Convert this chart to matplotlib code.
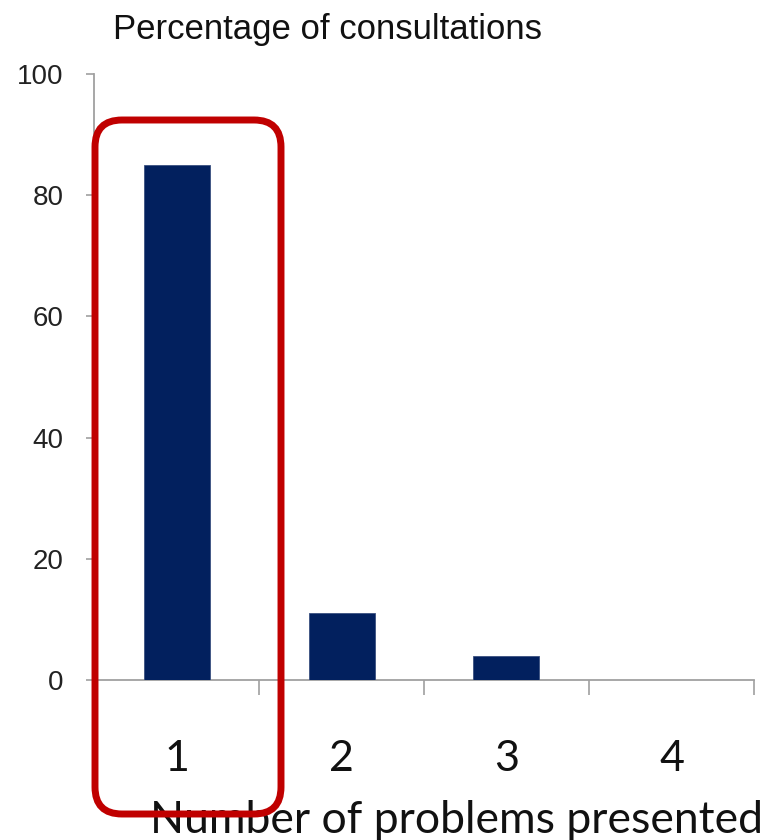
import matplotlib
matplotlib.use("Agg")
import matplotlib.pyplot as plt
from matplotlib.patches import FancyBboxPatch

categories = ["1", "2", "3", "4"]
values = [85, 11, 4, 0]
yticks = [0, 20, 40, 60, 80, 100]
title = "Percentage of consultations"
xlabel = "Number of problems presented"

W, H = 763, 840
fig = plt.figure(figsize=(W / 100, H / 100), dpi=100)
ax = fig.add_axes([94 / W, 1 - 680 / H, (754 - 94) / W, (680 - 74) / H])

x = list(range(1, len(categories) + 1))
ax.bar(x, values, width=0.4, color="#02205E", edgecolor="#3A5080", linewidth=0.6, zorder=3)

ax.set_xlim(0.5, len(categories) + 0.5)
ax.set_ylim(0, 100)
for s in ["top", "right"]:
    ax.spines[s].set_visible(False)
for s in ["left", "bottom"]:
    ax.spines[s].set_color("#A0A0A0")
    ax.spines[s].set_linewidth(1.3)

ax.set_yticks(yticks)
ax.set_yticklabels([str(v) for v in yticks], fontfamily="Liberation Sans", fontsize=20, color="#222222")
ax.tick_params(axis="y", direction="out", length=6, width=1.2, color="#A0A0A0", pad=16)

ax.set_xticks(x)
ax.set_xticklabels(categories, fontfamily="Lato", fontsize=31, color="#111111")
ax.tick_params(axis="x", which="major", length=0, pad=43)
ax.set_xticks([i + 0.5 for i in range(len(categories) + 1)], minor=True)
ax.tick_params(axis="x", which="minor", direction="out", length=11, width=1.2, color="#A0A0A0")

fig.text(113 / W, 1 - 30 / H, title, fontfamily="Liberation Sans", fontsize=25, color="#111111",
         ha="left", va="center")
fig.text(150 / W, 7 / H, xlabel, fontfamily="Lato", fontsize=32, color="#111111",
         ha="left", va="baseline")

box = FancyBboxPatch((0.95, H / 100 - 8.14), 2.81 - 0.95, 8.14 - 1.20,
                     boxstyle="round,pad=0,rounding_size=0.27",
                     transform=fig.dpi_scale_trans, fill=False,
                     edgecolor="#C00000", linewidth=5, clip_on=False, zorder=10)
fig.add_artist(box)

fig.savefig("out.png", dpi=100)
